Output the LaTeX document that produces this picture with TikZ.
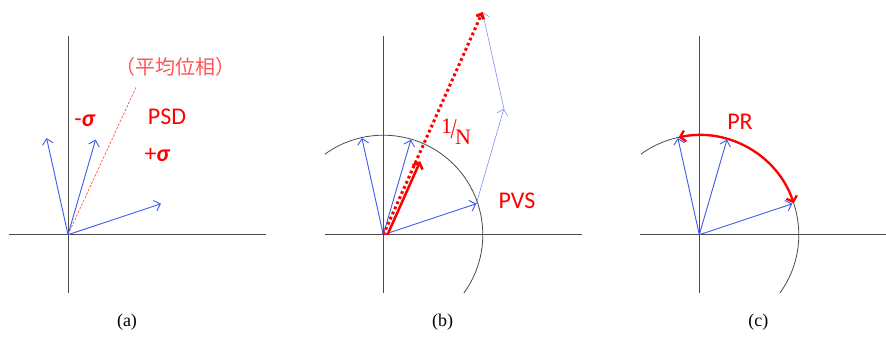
\documentclass[tikz,border=0pt]{standalone}
\usepackage{fontspec}
\setmainfont{Liberation Serif}
\newfontfamily\lblfont{Carlito}
\newfontfamily\cjkfont{Noto Sans CJK JP}
\usetikzlibrary{arrows.meta,calc}
\definecolor{axisgray}{RGB}{75,75,75}
\definecolor{vecblue}{RGB}{60,90,235}
\definecolor{chainblue}{RGB}{125,145,245}
\definecolor{lightred}{RGB}{255,85,85}
\tikzset{
  axis/.style={draw=axisgray, line width=0.8pt},
  circ/.style={draw=axisgray, line width=0.8pt},
  vec/.style={draw=vecblue, line width=0.9pt, -{Straight Barb[length=5.5pt,width=11pt]}},
  chainvec/.style={draw=chainblue, line width=0.6pt, -{Straight Barb[length=5.5pt,width=11pt]}},
  bigred/.style={draw=red, line width=2.5pt, -{Straight Barb[length=5pt,width=11pt]}},
  reddot/.style={draw=red, line width=3pt, dash pattern=on 2.8pt off 2.8pt, -{Straight Barb[length=4pt,width=8pt]}},
  redarc/.style={draw=red, line width=2.3pt, {Straight Barb[length=5pt,width=11pt]}-{Straight Barb[length=5pt,width=11pt]}},
  meanline/.style={draw=lightred, line width=0.7pt, dash pattern=on 2.5pt off 1.5pt},
  lbl/.style={text=red, font=\lblfont\fontsize{24}{28}\selectfont, inner sep=0pt},
  cjklbl/.style={text=lightred, font=\cjkfont\fontsize{20}{23}\selectfont, inner sep=0pt},
  caption/.style={font=\fontsize{18}{21}\selectfont, inner sep=0pt},
}
\begin{document}
\begin{tikzpicture}[x=1pt,y=1pt]
\useasboundingbox[fill=white] (0,0) rectangle (886,338);

% ---------- panel (a) ----------
\coordinate (Ao) at (68,103.3);
\coordinate (Atop) at (68,302);
\coordinate (Abot) at (68,45);
\coordinate (Aleft) at (9,103.3);
\coordinate (Aright) at (266,103.3);
\draw[axis] (Atop) -- (Abot);
\draw[axis] (Aleft) -- (Aright);
\coordinate (Al) at ($(Ao)+(102.5:99)$);
\coordinate (Am) at ($(Ao)+(73.8:99)$);
\coordinate (Ar) at ($(Ao)+(18.4:98)$);
\coordinate (Amean) at (136,250.7);
\draw[meanline] (Ao) -- (Amean);
\draw[vec] (Ao) -- (Al);
\draw[vec] (Ao) -- (Am);
\draw[vec] (Ao) -- (Ar);
\node[cjklbl] (avg) at (175,271.3) {（平均位相）};
\node[lbl] (minus) at (85,217.3) {-\textbf{\textit{σ}}};
\node[lbl] (psd) at (167,221) {PSD};
\node[lbl] (plus) at (157.5,183) {+\textbf{\textit{σ}}};
\node[caption] (capa) at (127,16) {(a)};

% ---------- panel (b) ----------
\coordinate (Bo) at (383.3,103.3);
\coordinate (Btop) at (383.3,302);
\coordinate (Bbot) at (383.3,45);
\coordinate (Bleft) at (325,103.3);
\coordinate (Bright) at (581.7,103.3);
\draw[axis] (Btop) -- (Bbot);
\draw[axis] (Bleft) -- (Bright);
\draw[circ] ($(Bo)+(-36:99.5)$) arc[start angle=-36, end angle=126, radius=99.5pt];
\coordinate (Bl) at ($(Bo)+(102.5:99)$);
\coordinate (Bm) at ($(Bo)+(73.8:99)$);
\coordinate (Br) at ($(Bo)+(18.4:98)$);
\draw[vec] (Bo) -- (Bl);
\draw[vec] (Bo) -- (Bm);
\draw[vec] (Bo) -- (Br);
\coordinate (Bc1) at ($(Br)+(Bm)-(Bo)$);
\coordinate (Bc2) at ($(Bc1)+(Bl)-(Bo)$);
\draw[chainvec] (Br) -- (Bc1);
\draw[chainvec] (Bc1) -- (Bc2);
\draw[reddot] (Bo) -- (Bc2);
\coordinate (Bs) at (387.5,103.3);
\coordinate (Bmean) at ($(Bs)+0.33*(Bc2)-0.33*(Bo)$);
\draw[bigred] (Bs) -- (Bmean);
\node[text=red, inner sep=0pt, font=\fontsize{22}{24}\selectfont] (invn) at (456,206)
  {\raisebox{5pt}{1}\kern-1.5pt\scalebox{1}[1.3]{/}\kern-1.5pt\raisebox{-6pt}{N}};
\node[lbl] (pvs) at (517,137.5) {PVS};
\node[caption] (capb) at (442.7,16) {(b)};

% ---------- panel (c) ----------
\coordinate (Co) at (699.3,103.3);
\coordinate (Ctop) at (699.3,302);
\coordinate (Cbot) at (699.3,45);
\coordinate (Cleft) at (640,103.3);
\coordinate (Cright) at (886,103.3);
\draw[axis] (Ctop) -- (Cbot);
\draw[axis] (Cleft) -- (Cright);
\draw[circ] ($(Co)+(-36:99.5)$) arc[start angle=-36, end angle=126, radius=99.5pt];
\coordinate (Cl) at ($(Co)+(102.5:99)$);
\coordinate (Cm) at ($(Co)+(73.8:99)$);
\coordinate (Cr) at ($(Co)+(18.4:98)$);
\draw[vec] (Co) -- (Cl);
\draw[vec] (Co) -- (Cm);
\draw[vec] (Co) -- (Cr);
\draw[redarc] ($(Co)+(18.4:99.5)$) arc[start angle=18.4, end angle=102, radius=99.5pt];
\node[lbl] (pr) at (740,216.3) {PR};
\node[caption] (capc) at (758.3,16) {(c)};
\end{tikzpicture}
\end{document}
